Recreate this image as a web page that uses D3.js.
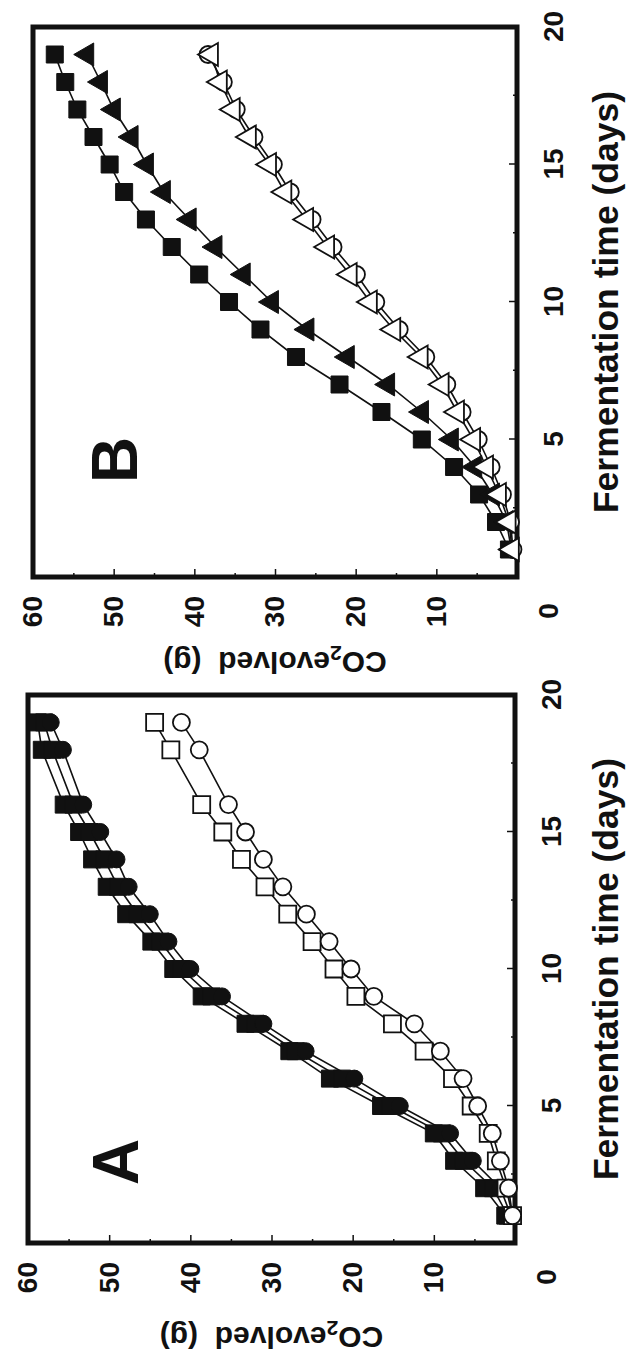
<!DOCTYPE html>
<html><head><meta charset="utf-8">
<script src="https://cdn.jsdelivr.net/npm/d3@7"></script>
<style>html,body{margin:0;padding:0;background:#fff}svg{display:block}</style>
</head><body>
<script>
// ---------- data ----------
const tickDays = [5, 10, 15, 20];
const minorDays = [2.5, 7.5, 12.5, 17.5];
const tickCO2 = [10, 20, 30, 40, 50, 60];
const minorCO2 = [5, 15, 25, 35, 45, 55];
const cornerLabel = "0";
const xTitle = "Fermentation time (days)";
const panelNames = ["A", "B"];

// Panel A (no reading at day 17)
const daysA = [1, 2, 3, 4, 5, 6, 7, 8, 9, 10, 11, 12, 13, 14, 15, 16, 18, 19];
const A_filledSquare1 = [1.2, 3.8, 7.5, 10.0, 16.5, 22.8, 27.8, 33.2, 38.6, 42.1, 44.8, 47.9, 50.3, 52.1, 53.7, 55.6, 58.3, 58.8];
const A_filledSquare2 = [0.9, 2.7, 6.3, 9.0, 15.3, 21.3, 27.0, 32.0, 37.4, 41.1, 43.7, 46.5, 48.9, 50.6, 52.4, 54.4, 57.0, 58.0];
const A_filledCircle = [0.5, 1.8, 5.2, 8.0, 14.2, 19.8, 25.8, 31.0, 36.1, 40.0, 42.7, 45.0, 47.6, 49.1, 51.1, 53.2, 55.7, 57.2];
const A_openSquare = [0.3, 1.1, 2.3, 3.3, 5.4, 7.7, 11.2, 15.1, 19.6, 22.3, 25.0, 28.0, 30.8, 33.7, 36.0, 38.6, 42.4, 44.4];
const A_openCircle = [0.3, 0.8, 1.8, 2.8, 4.6, 6.4, 9.2, 12.4, 17.4, 20.2, 22.9, 25.7, 28.6, 31.0, 33.2, 35.3, 38.9, 41.1];

// Panel B
const daysB = [1, 2, 3, 4, 5, 6, 7, 8, 9, 10, 11, 12, 13, 14, 15, 16, 17, 18, 19];
const B_filledSquare = [1.0, 2.6, 4.7, 7.8, 11.8, 16.8, 22.0, 27.4, 31.8, 35.7, 39.4, 42.8, 46.0, 48.7, 50.5, 52.5, 54.5, 56.0, 57.3];
const B_filledTriangle = [0.7, 1.3, 3.0, 5.2, 8.1, 11.8, 16.0, 21.0, 26.0, 30.4, 33.9, 37.4, 40.6, 43.8, 45.9, 47.8, 50.0, 51.6, 53.3];
const B_openTriangle = [0.6, 1.0, 2.2, 3.8, 5.4, 7.4, 9.3, 11.9, 15.3, 18.2, 20.7, 23.5, 26.1, 28.8, 30.7, 33.2, 35.2, 36.8, 37.9];
const B_openCircle = [0.5, 0.8, 1.8, 3.2, 4.8, 6.8, 8.7, 11.3, 14.6, 17.5, 19.9, 22.8, 25.4, 28.1, 30.2, 32.6, 34.8, 36.4, 38.3];

// ---------- layout (drawn in landscape, then rotated 90° counter-clockwise) ----------
const W = 633, H = 1371;
const FONT = "'Liberation Sans', Arial, Helvetica, sans-serif";
const INK = "#111";

const svg = d3.select("body").append("svg").attr("width", W).attr("height", H);
svg.append("rect").attr("width", W).attr("height", H).attr("fill", "#fff");
const root = svg.append("g").attr("transform", `translate(0,${H}) rotate(-90)`);

const panels = {
  A: { x0: 128, x1: 676, y0: 515, y1: 28, letter: [209, 116], yTitleX: 33,
       series: [
         { days: daysA, vals: A_filledSquare1, shape: "square", filled: true },
         { days: daysA, vals: A_filledSquare2, shape: "square", filled: true },
         { days: daysA, vals: A_filledCircle, shape: "circle", filled: true },
         { days: daysA, vals: A_openSquare, shape: "square", filled: false },
         { days: daysA, vals: A_openCircle, shape: "circle", filled: false }
       ] },
  B: { x0: 794, x1: 1344, y0: 517, y1: 33, letter: [911, 115], yTitleX: 708,
       series: [
         { days: daysB, vals: B_filledSquare, shape: "square", filled: true },
         { days: daysB, vals: B_filledTriangle, shape: "triangle", filled: true },
         { days: daysB, vals: B_openCircle, shape: "circle", filled: false },
         { days: daysB, vals: B_openTriangle, shape: "triangle", filled: false }
       ] }
};

const symbolFor = {
  square: d3.symbol().type(d3.symbolSquare).size(17 * 17),
  circle: d3.symbol().type(d3.symbolCircle).size(Math.PI * 8.5 * 8.5),
  triangle: d3.symbol().type(d3.symbolTriangle).size(230)
};

panelNames.forEach(name => {
  const p = panels[name];
  const g = root.append("g");
  const x = d3.scaleLinear().domain([0, 20]).range([p.x0, p.x1]);
  const y = d3.scaleLinear().domain([0, 60]).range([p.y0, p.y1]);

  // axes: inward ticks + labels
  const ax = g.append("g").attr("transform", `translate(0,${p.y0})`)
    .call(d3.axisBottom(x).tickValues(tickDays).tickSize(-8).tickPadding(26));
  const axm = g.append("g").attr("transform", `translate(0,${p.y0})`)
    .call(d3.axisBottom(x).tickValues(minorDays).tickSize(-4).tickFormat(""));
  const ay = g.append("g").attr("transform", `translate(${p.x0},0)`)
    .call(d3.axisLeft(y).tickValues(tickCO2).tickSize(-8).tickPadding(19));
  const aym = g.append("g").attr("transform", `translate(${p.x0},0)`)
    .call(d3.axisLeft(y).tickValues(minorCO2).tickSize(-4).tickFormat(""));
  [ax, axm, ay, aym].forEach(a => {
    a.select(".domain").remove();
    a.selectAll("line").attr("stroke", INK).attr("stroke-width", 1.5);
    a.selectAll("text").attr("fill", INK).attr("font-family", FONT)
      .attr("font-weight", "bold").attr("font-size", 28);
  });
  ax.selectAll(".tick").filter(d => d === 20).select("line").remove();
  ay.selectAll(".tick").filter(d => d === 60).select("line").remove();

  // shared origin label
  g.append("text").attr("x", x(0) - 34).attr("y", y(0) + 31)
    .attr("text-anchor", "middle").attr("dominant-baseline", "central")
    .attr("font-family", FONT).attr("font-weight", "bold").attr("font-size", 28)
    .attr("fill", INK).text(cornerLabel);

  // frame
  g.append("rect").attr("x", x(0)).attr("y", y(60))
    .attr("width", x(20) - x(0)).attr("height", y(0) - y(60))
    .attr("fill", "none").attr("stroke", INK).attr("stroke-width", 5);

  // titles
  g.append("text").attr("x", (x(0) + x(20)) / 2).attr("y", 606)
    .attr("text-anchor", "middle").attr("dominant-baseline", "central")
    .attr("font-family", FONT).attr("font-weight", "bold").attr("font-size", 35.5)
    .attr("fill", INK).text(xTitle);

  const yt = g.append("text")
    .attr("transform", `translate(${p.yTitleX},${(y(0) + y(60)) / 2}) rotate(-90)`)
    .attr("text-anchor", "middle").attr("dominant-baseline", "central")
    .attr("font-family", FONT).attr("font-weight", "bold").attr("font-size", 30)
    .attr("fill", INK);
  yt.append("tspan").text("CO");
  yt.append("tspan").attr("font-size", 21).attr("dy", 9).text("2");
  yt.append("tspan").attr("dy", -9).text("evolved\u00a0\u00a0(g)");

  // panel letter
  g.append("text").attr("x", p.letter[0]).attr("y", p.letter[1])
    .attr("text-anchor", "middle").attr("dominant-baseline", "central")
    .attr("font-family", FONT).attr("font-weight", "bold").attr("font-size", 64)
    .attr("fill", INK).text(name);

  // lines
  const line = d3.line().x(d => x(d[0])).y(d => y(d[1]));
  p.series.forEach(s => {
    const pts = s.days.map((d, i) => [d, s.vals[i]]);
    g.append("path").datum(pts).attr("d", line)
      .attr("fill", "none").attr("stroke", INK).attr("stroke-width", 1.6);
  });
  // markers
  p.series.forEach(s => {
    const pts = s.days.map((d, i) => [d, s.vals[i]]);
    g.append("g").selectAll("path").data(pts).join("path")
      .attr("transform", d => `translate(${x(d[0])},${y(d[1])})`)
      .attr("d", symbolFor[s.shape])
      .attr("fill", s.filled ? INK : "#fff")
      .attr("stroke", INK).attr("stroke-width", s.filled ? 1 : 1.8);
  });
});
</script>
</body></html>
